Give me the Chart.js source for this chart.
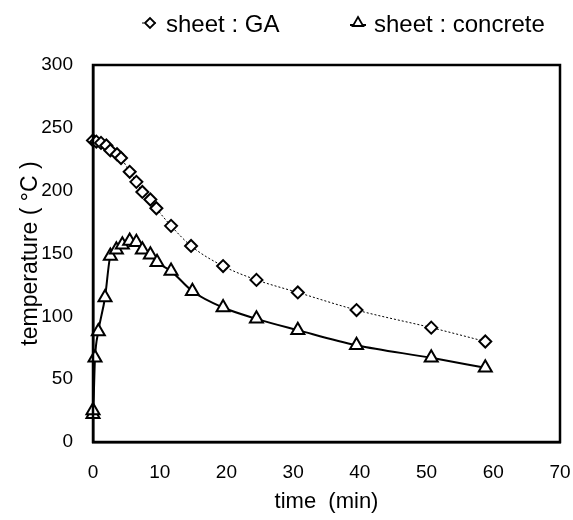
<!DOCTYPE html>
<html>
<head>
<meta charset="utf-8">
<script src="https://cdn.jsdelivr.net/npm/chart.js@4"></script>
<style>
  html, body { margin: 0; padding: 0; background: #fff; }
  #wrap { width: 573px; height: 520px; }
</style>
</head>
<body>
<div id="wrap"><canvas id="mycanvas"></canvas></div>
<script>
// time (min) and temperature (°C)
var gaTime = [0, 0.5, 1.2, 2, 2.6, 3.6, 4.2, 5.5, 6.5, 7.4, 8.6, 9.5, 11.7, 14.7, 19.5, 24.5, 30.7, 39.5, 50.7, 58.8];
var gaTemp = [240, 239, 238, 236, 232, 229, 226, 215, 207, 199, 193, 186, 172, 156, 140, 129, 119, 105, 91, 80];

var concTime = [0, 0, 0.3, 0.8, 1.8, 2.6, 3.5, 4.4, 5.5, 6.5, 7.4, 8.6, 9.6, 11.7, 14.9, 19.5, 24.5, 30.7, 39.5, 50.7, 58.8];
var concTemp = [22, 25, 67, 88, 115, 148, 153, 157, 160, 159, 153, 149, 143, 136, 120, 107, 98, 89, 77, 67, 59];

var xTicks = [0, 10, 20, 30, 40, 50, 60, 70];
var yTicks = [0, 50, 100, 150, 200, 250, 300];

function toPoints(xs, ys) {
  var pts = [];
  for (var i in xs) {
    pts.push({x: xs[i], y: ys[i]});
  }
  return pts;
}

var font = "'Liberation Sans', Arial, sans-serif";

// frame round the plot area
var frame = {
  id: 'frame',
  afterDatasetsDraw: function(chart) {
    var a = chart.chartArea;
    var c = chart.ctx;
    c.save();
    c.strokeStyle = '#000';
    c.lineWidth = 2.5;
    c.strokeRect(a.left, a.top, a.right - a.left, a.bottom - a.top);
    c.restore();
  }
};

// legend as in the figure: small marker with a short line through it, wide gap
var legendSpots = [150, 358];
var topLegend = {
  id: 'topLegend',
  afterDraw: function(chart) {
    var c = chart.ctx;
    c.save();
    chart.data.datasets.forEach(function(ds, i) {
      var x = legendSpots[i], y = 23;
      c.strokeStyle = '#000';
      c.lineWidth = ds.borderWidth;
      c.setLineDash(ds.borderDash || []);
      c.beginPath();
      c.moveTo(x - 8, y + (i === 1 ? 2 : 0));
      c.lineTo(x + 8, y + (i === 1 ? 2 : 0));
      c.stroke();
      c.setLineDash([]);
      c.fillStyle = '#fff';
      c.lineWidth = 1.8;
      Chart.helpers.drawPoint(c, {pointStyle: ds.pointStyle, radius: i === 1 ? 6 : 5, borderWidth: 1.8}, x, y);
      c.fillStyle = '#000';
      c.font = '24px ' + font;
      c.textBaseline = 'middle';
      c.fillText(ds.label, x + 16, y + 2);
    });
    c.restore();
  }
};

var chartdata = {
  datasets: [
    {
      label: 'sheet : GA',
      data: toPoints(gaTime, gaTemp),
      borderColor: '#000',
      borderWidth: 1,
      borderDash: [2, 2],
      backgroundColor: '#fff',
      pointStyle: 'rectRot',
      pointRadius: 6,
      pointBorderWidth: 2,
      pointBackgroundColor: '#fff',
      pointBorderColor: '#000',
      cubicInterpolationMode: 'monotone'
    },
    {
      label: 'sheet : concrete',
      data: toPoints(concTime, concTemp),
      borderColor: '#000',
      borderWidth: 2,
      backgroundColor: '#fff',
      pointStyle: 'triangle',
      pointRadius: 7.5,
      pointBorderWidth: 2,
      pointBackgroundColor: '#fff',
      pointBorderColor: '#000',
      cubicInterpolationMode: 'monotone'
    }
  ]
};

var ctx = document.getElementById('mycanvas');

var myLineChart = new Chart(ctx, {
  type: 'line',
  data: chartdata,
  plugins: [frame, topLegend],
  options: {
    responsive: true,
    maintainAspectRatio: false,
    animation: false,
    clip: false,
    layout: { padding: { left: 0, right: 13, top: 65, bottom: 0 } },
    plugins: {
      tooltip: { enabled: false },
      legend: { display: false }
    },
    scales: {
      x: {
        type: 'linear',
        min: 0,
        max: 70,
        afterBuildTicks: function(axis) {
          axis.ticks = xTicks.map(function(v) { return {value: v}; });
        },
        afterFit: function(axis) {
          axis.height = 78;
          axis.paddingLeft = 0;
          axis.paddingRight = 0;
        },
        grid: { display: false, drawTicks: false },
        border: { display: true, color: '#000', width: 2.5 },
        ticks: { color: '#000', padding: 19, maxRotation: 0, font: { family: font, size: 19 } },
        title: { display: true, text: 'time  (min)', color: '#000', padding: { top: 0, bottom: 5 }, font: { family: font, size: 22 } }
      },
      y: {
        type: 'linear',
        min: 0,
        max: 300,
        afterBuildTicks: function(axis) {
          axis.ticks = yTicks.map(function(v) { return {value: v}; });
        },
        afterFit: function(axis) {
          axis.width = 93;
          axis.paddingTop = 0;
          axis.paddingBottom = 0;
        },
        grid: { display: false, drawTicks: false },
        border: { display: true, color: '#000', width: 2.5 },
        ticks: { color: '#000', padding: 20, font: { family: font, size: 19 } },
        title: { display: true, text: 'temperature ( °C )', color: '#000', padding: { top: 17, bottom: 0 }, font: { family: font, size: 23 } }
      }
    }
  }
});
</script>
</body>
</html>
